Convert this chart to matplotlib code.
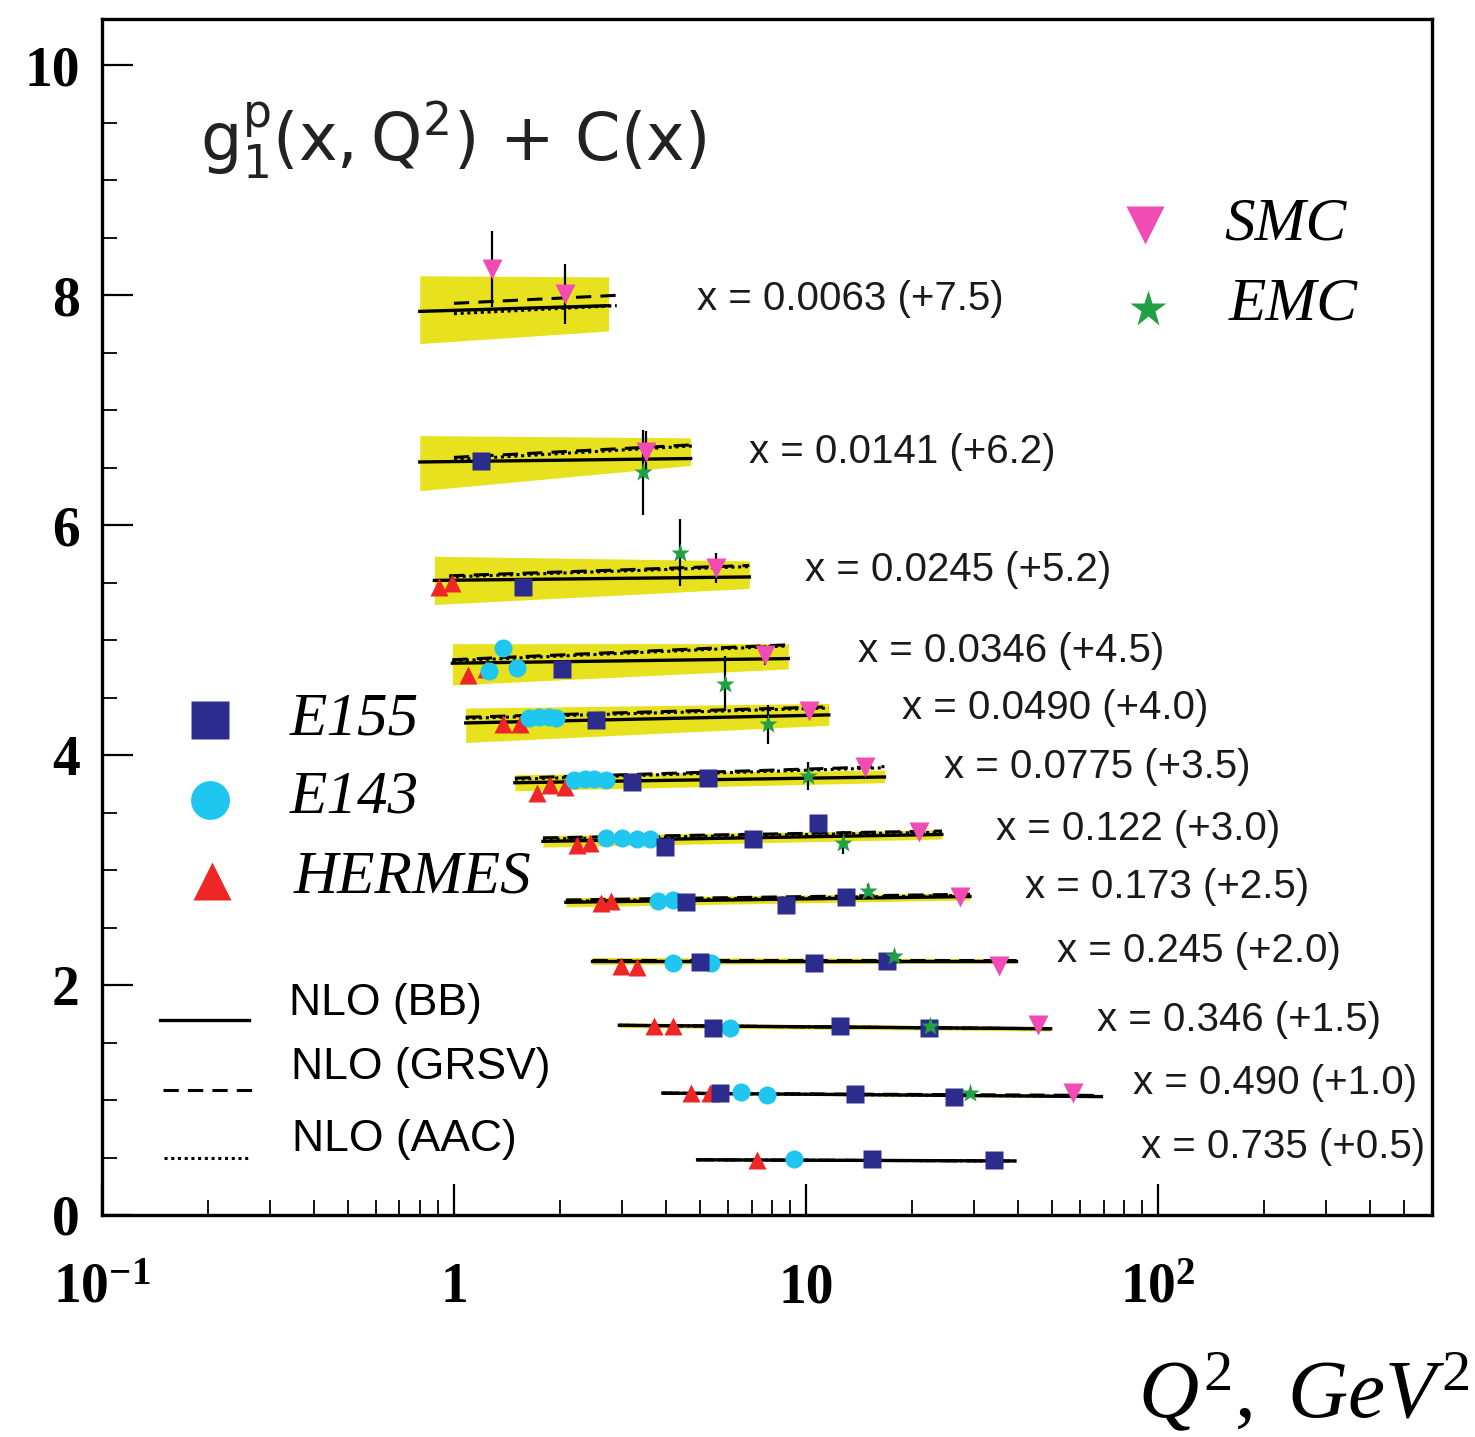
import matplotlib
matplotlib.use('Agg')
import matplotlib.pyplot as plt
from matplotlib.ticker import LogLocator, NullFormatter, MultipleLocator

plt.rcParams['mathtext.fontset'] = 'custom'
plt.rcParams['mathtext.rm'] = 'Liberation Serif'
plt.rcParams['mathtext.it'] = 'Liberation Serif:italic'
plt.rcParams['mathtext.bf'] = 'Liberation Serif:bold'

# ---------------- data ----------------
x_bins = ['0.0063', '0.0141', '0.0245', '0.0346', '0.0490', '0.0775',
          '0.122', '0.173', '0.245', '0.346', '0.490', '0.735']
offsets = ['+7.5', '+6.2', '+5.2', '+4.5', '+4.0', '+3.5',
           '+3.0', '+2.5', '+2.0', '+1.5', '+1.0', '+0.5']
label_q2 = [4.9, 6.9, 9.9, 14.0, 18.7, 24.7, 34.7, 41.8, 51.5, 67, 85, 89.5]
label_y = [7.97, 6.64, 5.61, 4.91, 4.41, 3.90, 3.36, 2.85, 2.30, 1.70, 1.15, 0.59]

# NLO (BB) curve end points, plus error band
bb_q2_lo = [0.80, 0.80, 0.88, 0.99, 1.08, 1.49, 1.79, 2.08, 2.47, 2.95, 3.92, 4.92]
bb_q2_hi = [2.75, 4.7, 6.9, 8.9, 11.6, 16.7, 24.3, 29.2, 39.5, 49.5, 69, 39.2]
bb_lo = [7.86, 6.55, 5.52, 4.80, 4.28, 3.76, 3.25, 2.72, 2.21, 1.65, 1.06, 0.48]
bb_hi = [7.91, 6.58, 5.55, 4.84, 4.35, 3.81, 3.31, 2.77, 2.21, 1.62, 1.03, 0.47]
band_top_lo = [8.17, 6.78, 5.73, 4.97, 4.41, 3.83, 3.30, 2.76, 2.24, 1.67, 1.07, 0.48]
band_top_hi = [8.16, 6.76, 5.69, 4.97, 4.45, 3.87, 3.35, 2.80, 2.23, 1.64, 1.04, 0.47]
band_bot_lo = [7.58, 6.30, 5.31, 4.61, 4.11, 3.69, 3.20, 2.68, 2.18, 1.63, 1.05, 0.48]
band_bot_hi = [7.69, 6.52, 5.45, 4.75, 4.26, 3.76, 3.27, 2.74, 2.19, 1.60, 1.02, 0.47]

# NLO (GRSV) and NLO (AAC)
th_q2_lo = [1.0, 1.0, 0.97, 0.99, 1.08, 1.49, 1.79, 2.08, 2.47, 2.95, 3.92, 4.92]
th_q2_hi = [2.9, 4.8, 6.9, 8.9, 11.6, 16.7, 24.3, 29.2, 39.5, 49.5, 69, 39.2]
grsv_lo = [7.93, 6.59, 5.56, 4.83, 4.33, 3.80, 3.28, 2.74, 2.22, 1.65, 1.06, 0.48]
grsv_hi = [8.00, 6.70, 5.65, 4.96, 4.42, 3.90, 3.34, 2.79, 2.22, 1.62, 1.04, 0.47]
aac_lo = [7.84, 6.57, 5.55, 4.82, 4.32, 3.79, 3.27, 2.73, 2.21, 1.65, 1.06, 0.48]
aac_hi = [7.91, 6.69, 5.64, 4.95, 4.41, 3.89, 3.33, 2.78, 2.21, 1.62, 1.03, 0.47]

# experiments (values already include the offset C(x))
e155_q2 = [1.19, 1.57, 2.03, 2.54, 3.2, 5.27, 3.97, 7.06, 10.8, 4.57, 8.79, 13.0,
           4.99, 10.5, 17.0, 5.43, 12.5, 22.4, 5.69, 13.8, 26.3, 15.4, 34.1]
e155_g = [6.56, 5.46, 4.75, 4.31, 3.77, 3.80, 3.20, 3.27, 3.41, 2.72, 2.70, 2.77,
          2.20, 2.19, 2.21, 1.63, 1.64, 1.63, 1.06, 1.05, 1.03, 0.49, 0.48]

e143_q2 = [1.26, 1.38, 1.51, 1.63, 1.74, 1.86, 1.95, 2.2, 2.35, 2.5, 2.7,
           2.7, 3.0, 3.3, 3.6, 3.8, 4.2, 4.19, 5.37, 6.1, 6.53, 7.74, 9.27]
e143_g = [4.73, 4.93, 4.76, 4.32, 4.33, 4.33, 4.32, 3.78, 3.79, 3.79, 3.78,
          3.28, 3.28, 3.27, 3.27, 2.73, 2.74, 2.19, 2.19, 1.63, 1.07, 1.04, 0.49]

hermes_q2 = [0.91, 0.99, 1.10, 1.23, 1.38, 1.54, 1.72, 1.87, 2.07, 2.23, 2.43,
             2.62, 2.8, 2.98, 3.31, 3.71, 4.2, 4.71, 5.33, 7.24]
hermes_g = [5.46, 5.50, 4.70, 4.75, 4.27, 4.27, 3.67, 3.74, 3.72, 3.22, 3.24,
            2.71, 2.73, 2.17, 2.16, 1.64, 1.64, 1.06, 1.06, 0.48]

smc_q2 = [1.28, 2.07, 3.52, 5.55, 7.64, 10.2, 14.7, 20.9, 27.3, 35.4, 45.5, 57.4]
smc_g = [8.23, 8.01, 6.64, 5.63, 4.87, 4.38, 3.90, 3.33, 2.77, 2.17, 1.65, 1.06]
smc_err = [0.33, 0.26, 0.18, 0.13, 0.09, 0.05, 0.04, 0.03, 0.02, 0.02, 0.02, 0.02]

emc_q2 = [3.45, 4.39, 5.9, 7.82, 10.1, 12.7, 15.0, 17.8, 22.5, 29.2]
emc_g = [6.46, 5.76, 4.62, 4.27, 3.82, 3.24, 2.82, 2.25, 1.64, 1.06]
emc_err = [0.37, 0.29, 0.24, 0.17, 0.12, 0.10, 0.06, 0.04, 0.03, 0.03]

xtick_vals = [0.1, 1, 10, 100]
xtick_labels = [r'$\mathbf{10^{-1}}$', '1', '10', r'$\mathbf{10^{2}}$']
ytick_vals = [0, 2, 4, 6, 8, 10]

# ---------------- styles ----------------
YELLOW = '#e8e21e'
C_E155 = '#2c2c8e'
C_E143 = '#1ec6f0'
C_HERM = '#ee2626'
C_SMC = '#f04cb4'
C_EMC = '#22a044'
BB_LS = '-'
GRSV_LS = (0, (5, 3))
AAC_LS = (0, (1, 1.2))

fig = plt.figure(figsize=(14.75, 14.37), dpi=100)
ax = fig.add_axes([0.069, 0.1545, 0.902, 0.832])
ax.set_xscale('log')
ax.set_xlim(0.1, 600)
ax.set_ylim(0, 10.4)

for i in range(len(x_bins)):
    qs = [bb_q2_lo[i], bb_q2_hi[i]]
    ax.fill_between(qs, [band_bot_lo[i], band_bot_hi[i]],
                    [band_top_lo[i], band_top_hi[i]],
                    color=YELLOW, lw=0, zorder=1)
    ax.plot(qs, [bb_lo[i], bb_hi[i]], color='black', lw=2.4, ls=BB_LS, zorder=2)
    tq = [th_q2_lo[i], th_q2_hi[i]]
    ax.plot(tq, [grsv_lo[i], grsv_hi[i]], color='black', lw=2.2, ls=GRSV_LS, zorder=2)
    ax.plot(tq, [aac_lo[i], aac_hi[i]], color='black', lw=2.2, ls=AAC_LS, zorder=2)
    ax.text(label_q2[i], label_y[i], f'x = {x_bins[i]} ({offsets[i]})',
            fontsize=29, family='Liberation Sans', ha='left', va='center',
            color='#1a1a1a')

ax.errorbar(smc_q2, smc_g, yerr=smc_err, fmt='none', ecolor='black', elinewidth=1.6, zorder=3)
ax.errorbar(emc_q2, emc_g, yerr=emc_err, fmt='none', ecolor='black', elinewidth=1.6, zorder=3)

ax.plot(hermes_q2, hermes_g, ls='none', marker='^', ms=13, color=C_HERM, mec='none', zorder=4)
ax.plot(e143_q2, e143_g, ls='none', marker='o', ms=13, color=C_E143, mec='none', zorder=4)
ax.plot(e155_q2, e155_g, ls='none', marker='s', ms=13, color=C_E155, mec='none', zorder=5)
ax.plot(emc_q2, emc_g, ls='none', marker='*', ms=14, color=C_EMC, mec='none', zorder=5)
ax.plot(smc_q2, smc_g, ls='none', marker='v', ms=14, color=C_SMC, mec='none', zorder=5)

# title
ax.text(0.074, 0.899, r'$\mathrm{g_1^p(x,Q^2)}$ + C(x)', transform=ax.transAxes,
        fontsize=47, family='DejaVu Sans', ha='left', va='center',
        math_fontfamily='dejavusans', color='#222222')

# legends (manual)
T = ax.transAxes
ax.plot([0.784], [0.828], marker='v', ms=28, color=C_SMC, mec='none', transform=T, clip_on=False)
ax.text(0.844, 0.828, 'SMC', transform=T, fontsize=44, family='Liberation Serif',
        style='italic', ha='left', va='center')
ax.plot([0.786], [0.758], marker='*', ms=28, color=C_EMC, mec='none', transform=T, clip_on=False)
ax.text(0.847, 0.761, 'EMC', transform=T, fontsize=44, family='Liberation Serif',
        style='italic', ha='left', va='center')

ax.plot([0.081], [0.414], marker='s', ms=28, color=C_E155, mec='none', transform=T)
ax.text(0.141, 0.414, 'E155', transform=T, fontsize=44, family='Liberation Serif',
        style='italic', ha='left', va='center')
ax.plot([0.081], [0.347], marker='o', ms=28, color=C_E143, mec='none', transform=T)
ax.text(0.141, 0.349, 'E143', transform=T, fontsize=44, family='Liberation Serif',
        style='italic', ha='left', va='center')
ax.plot([0.083], [0.279], marker='^', ms=28, color=C_HERM, mec='none', transform=T)
ax.text(0.144, 0.282, 'HERMES', transform=T, fontsize=44, family='Liberation Serif',
        style='italic', ha='left', va='center')

ax.plot([0.044, 0.111], [0.163, 0.163], color='black', lw=2.4, ls=BB_LS, transform=T)
ax.text(0.141, 0.177, 'NLO (BB)', transform=T, fontsize=32, family='Liberation Sans',
        ha='left', va='center')
ax.plot([0.046, 0.113], [0.1045, 0.1045], color='black', lw=2.2, ls=GRSV_LS, transform=T)
ax.text(0.142, 0.123, 'NLO (GRSV)', transform=T, fontsize=32, family='Liberation Sans',
        ha='left', va='center')
ax.plot([0.047, 0.111], [0.048, 0.048], color='black', lw=2.2, ls=AAC_LS, transform=T)
ax.text(0.143, 0.063, 'NLO (AAC)', transform=T, fontsize=32, family='Liberation Sans',
        ha='left', va='center')

# axes styling
for s in ax.spines.values():
    s.set_linewidth(2.4)
ax.set_xticks(xtick_vals)
ax.set_xticklabels(xtick_labels)
ax.xaxis.set_minor_locator(LogLocator(base=10, subs=range(2, 10)))
ax.xaxis.set_minor_formatter(NullFormatter())
ax.set_yticks(ytick_vals)
ax.set_yticklabels([str(v) for v in ytick_vals])
ax.yaxis.set_minor_locator(MultipleLocator(0.5))
ax.tick_params(which='major', direction='in', length=22, width=1.6)
ax.tick_params(which='minor', direction='in', length=11, width=1.3)
ax.tick_params(axis='x', which='major', pad=34)
ax.tick_params(axis='y', which='major', pad=16)
for lbl in ax.get_xticklabels() + ax.get_yticklabels():
    lbl.set_fontfamily('Liberation Serif')
    lbl.set_fontweight('bold')
    lbl.set_fontsize(40)

fig.text(0.996, 0.014, r'$Q^2,\ GeV^2$', fontsize=60, ha='right', va='baseline')

fig.savefig('out.png', dpi=100)
